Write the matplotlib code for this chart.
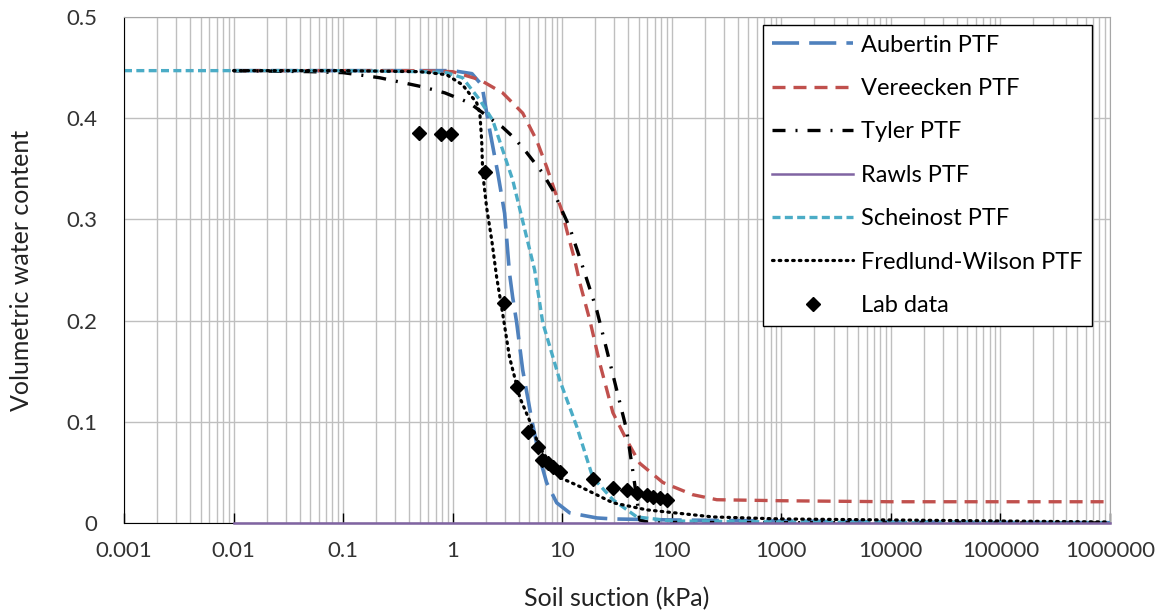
import numpy as np
import matplotlib
matplotlib.use("Agg")
import matplotlib.pyplot as plt
from matplotlib.ticker import FixedLocator, FixedFormatter, LogLocator, NullFormatter

plt.rcParams['font.family'] = ['Lato', 'DejaVu Sans']

# curves (suction kPa, volumetric water content)
aub_x = [0.01, 0.1, 1.0, 1.5, 1.77, 1.88, 2.18, 2.58, 2.98, 3.3, 3.53, 3.84, 4.36, 5.27,
         6.2, 7.2, 8.9, 11.7, 20.7, 29, 100, 1000, 1e4, 1e5, 1e6]
aub_y = [0.447, 0.447, 0.447, 0.444, 0.435, 0.428, 0.388, 0.346, 0.306, 0.247, 0.223, 0.198,
         0.151, 0.102, 0.065, 0.04, 0.02, 0.01, 0.005, 0.004, 0.003, 0.002, 0.001, 0.0005, 0.0003]

ver_x = [0.01, 0.1, 0.5, 1.0, 1.77, 2.86, 4.36, 5.85, 7.2, 8.5, 9.9, 11.2, 13.0, 14.5, 17.9,
         22, 29, 38.7, 51, 83, 155, 258, 1000, 1e4, 1e5, 1e6]
ver_y = [0.447, 0.447, 0.447, 0.446, 0.438, 0.425, 0.405, 0.378, 0.352, 0.329, 0.309, 0.286,
         0.26, 0.237, 0.2, 0.158, 0.109, 0.082, 0.059, 0.04, 0.028, 0.023, 0.022, 0.021, 0.021, 0.021]

tyl_x = [0.01, 0.05, 0.1, 0.215, 0.53, 0.85, 1.23, 1.43, 2.52, 2.86, 3.68, 4.74, 6.5, 8.2,
         11.7, 15.4, 20.7, 25.5, 31.5, 38.7, 44, 48.5, 51, 60, 100, 1000, 1e4, 1e5, 1e6]
tyl_y = [0.447, 0.446, 0.445, 0.44, 0.431, 0.425, 0.418, 0.415, 0.395, 0.391, 0.38, 0.366,
         0.347, 0.329, 0.292, 0.253, 0.21, 0.171, 0.131, 0.092, 0.052, 0.02, 0.003, 0.001,
         0.0005, 0.0003, 0.0002, 0.0001, 0.0001]

raw_x = [0.01, 1e6]
raw_y = [0.0, 0.0]

sch_x = [0.001, 0.01, 0.1, 0.5, 0.88, 1.23, 1.77, 2.32, 3.53, 5.6, 6.64, 9.5, 13.6, 19, 29,
         48, 100, 1000, 1e4, 1e5, 1e6]
sch_y = [0.447, 0.447, 0.447, 0.446, 0.445, 0.44, 0.418, 0.398, 0.339, 0.25, 0.198, 0.141,
         0.095, 0.045, 0.023, 0.006, 0.002, 0.001, 0.0005, 0.0002, 0.0001]

fw_x = [0.01, 0.1, 0.5, 0.88, 1.23, 1.66, 1.77, 1.84, 1.88, 2.04, 2.27, 2.52, 2.86, 3.3, 4.1,
        5.0, 6.2, 9.5, 14.5, 29, 59, 237, 1000, 1e4, 1e5, 1e6]
fw_y = [0.447, 0.447, 0.446, 0.443, 0.433, 0.415, 0.405, 0.378, 0.346, 0.312, 0.28, 0.243,
        0.207, 0.164, 0.124, 0.102, 0.075, 0.045, 0.036, 0.02, 0.013, 0.006, 0.004, 0.003,
        0.002, 0.001]

lab_x = [0.49, 0.78, 0.96, 1.96, 2.92, 3.84, 4.86, 5.97, 6.6, 7.4, 8.2, 9.5, 19, 29, 38.7,
         48, 59, 67, 78, 90]
lab_y = [0.385, 0.384, 0.384, 0.347, 0.217, 0.134, 0.09, 0.075, 0.062, 0.059, 0.055, 0.05,
         0.043, 0.035, 0.033, 0.03, 0.028, 0.026, 0.025, 0.023]

xticks = [0.001, 0.01, 0.1, 1, 10, 100, 1000, 10000, 100000, 1000000]
xlabels = ["0.001", "0.01", "0.1", "1", "10", "100", "1000", "10000", "100000", "1000000"]
yticks = [0, 0.1, 0.2, 0.3, 0.4, 0.5]
ylabels = ["0", "0.1", "0.2", "0.3", "0.4", "0.5"]

fig = plt.figure(figsize=(11.61, 6.15), dpi=100)
ax = fig.add_axes([124/1161, 1-523/615, 986/1161, 506/615])

ax.plot(aub_x, aub_y, color="#4F81BD", lw=2.6, dashes=(7.5, 2.8), label="Aubertin PTF")
ax.plot(ver_x, ver_y, color="#C0504D", lw=2.4, dashes=(3.9, 2.4), label="Vereecken PTF")
ax.plot(tyl_x, tyl_y, color="black", lw=2.4, dashes=(3.9, 3, 0.6, 3), label="Tyler PTF")
ax.plot(raw_x, raw_y, color="#8064A2", lw=1.8, label="Rawls PTF", clip_on=False, zorder=5)
ax.plot(sch_x, sch_y, color="#4BACC6", lw=2.4, dashes=(2.4, 1.3), label="Scheinost PTF")
ax.plot(fw_x, fw_y, color="black", lw=2.3, dashes=(0.5, 1.6), dash_capstyle="round",
        label="Fredlund-Wilson PTF")
ax.plot(lab_x, lab_y, ls="none", marker="D", ms=7.5, color="black", label="Lab data", zorder=6)

ax.set_xscale("log")
ax.set_xlim(0.001, 1e6)
ax.set_ylim(0, 0.5)

ax.xaxis.set_major_locator(FixedLocator(xticks))
ax.xaxis.set_major_formatter(FixedFormatter(xlabels))
ax.xaxis.set_minor_locator(LogLocator(base=10, subs=np.arange(2, 10), numticks=20))
ax.xaxis.set_minor_formatter(NullFormatter())
ax.set_yticks(yticks)
ax.set_yticklabels(ylabels)

ax.grid(True, which="major", color="#BFBFBF", lw=1.0)
ax.grid(True, which="minor", axis="x", color="#BFBFBF", lw=1.0)
ax.set_axisbelow(True)

ax.tick_params(axis="x", which="major", direction="in", length=7, width=1, pad=13,
               labelsize=16, colors="black", labelcolor="#333333")
ax.tick_params(axis="x", which="minor", length=0)
ax.tick_params(axis="y", length=0, pad=19, labelsize=16, labelcolor="#333333")

for s in ["top", "right"]:
    ax.spines[s].set_color("#A6A6A6")
for s in ["left", "bottom"]:
    ax.spines[s].set_color("black")

ax.set_xlabel("Soil suction (kPa)", fontsize=18, color="#222222")
ax.set_ylabel("Volumetric water content", fontsize=18, color="#222222")
ax.xaxis.set_label_coords(0.5, -0.126)
ax.yaxis.set_label_coords(-0.092, 0.5)

leg = ax.legend(loc="upper left", bbox_to_anchor=(0.648, 0.984), borderaxespad=0,
                fontsize=17, handlelength=3.4, labelspacing=0.95, handletextpad=0.35,
                borderpad=0.4, frameon=True, fancybox=False, framealpha=1)
leg.get_frame().set_edgecolor("black")
leg.get_frame().set_linewidth(1.0)
leg.set_zorder(10)

fig.savefig("out.png", dpi=100)
